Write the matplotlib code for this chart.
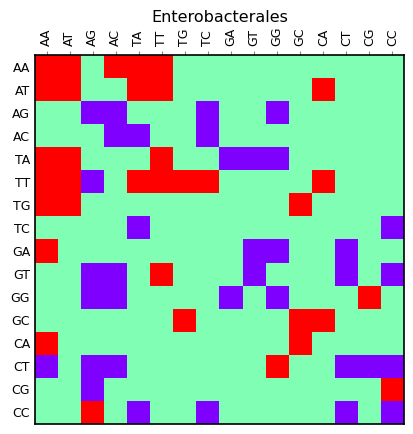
import numpy as np
import matplotlib
matplotlib.use("Agg")
import matplotlib.pyplot as plt

labels = ["AA", "AT", "AG", "AC", "TA", "TT", "TG", "TC",
          "GA", "GT", "GG", "GC", "CA", "CT", "CG", "CC"]

# 1 = red, 0 = green, -1 = purple
row_AA = [1, 1, 0, 1, 1, 1, 0, 0, 0, 0, 0, 0, 0, 0, 0, 0]
row_AT = [1, 1, 0, 0, 1, 1, 0, 0, 0, 0, 0, 0, 1, 0, 0, 0]
row_AG = [0, 0, -1, -1, 0, 0, 0, -1, 0, 0, -1, 0, 0, 0, 0, 0]
row_AC = [0, 0, 0, -1, -1, 0, 0, -1, 0, 0, 0, 0, 0, 0, 0, 0]
row_TA = [1, 1, 0, 0, 0, 1, 0, 0, -1, -1, -1, 0, 0, 0, 0, 0]
row_TT = [1, 1, -1, 0, 1, 1, 1, 1, 0, 0, 0, 0, 1, 0, 0, 0]
row_TG = [1, 1, 0, 0, 0, 0, 0, 0, 0, 0, 0, 1, 0, 0, 0, 0]
row_TC = [0, 0, 0, 0, -1, 0, 0, 0, 0, 0, 0, 0, 0, 0, 0, -1]
row_GA = [1, 0, 0, 0, 0, 0, 0, 0, 0, -1, -1, 0, 0, -1, 0, 0]
row_GT = [0, 0, -1, -1, 0, 1, 0, 0, 0, -1, 0, 0, 0, -1, 0, -1]
row_GG = [0, 0, -1, -1, 0, 0, 0, 0, -1, 0, -1, 0, 0, 0, 1, 0]
row_GC = [0, 0, 0, 0, 0, 0, 1, 0, 0, 0, 0, 1, 1, 0, 0, 0]
row_CA = [1, 0, 0, 0, 0, 0, 0, 0, 0, 0, 0, 1, 0, 0, 0, 0]
row_CT = [-1, 0, -1, -1, 0, 0, 0, 0, 0, 0, 1, 0, 0, -1, -1, -1]
row_CG = [0, 0, -1, 0, 0, 0, 0, 0, 0, 0, 0, 0, 0, 0, 0, 1]
row_CC = [0, 0, 1, 0, -1, 0, 0, -1, 0, 0, 0, 0, 0, -1, 0, -1]

matrix = np.array([row_AA, row_AT, row_AG, row_AC, row_TA, row_TT, row_TG, row_TC,
                   row_GA, row_GT, row_GG, row_GC, row_CA, row_CT, row_CG, row_CC])

fig = plt.figure(figsize=(4.13, 4.34), dpi=100)
ax = fig.add_axes([35 / 413, 10 / 434, 369 / 413, 369 / 434])
ax.imshow(matrix, cmap="rainbow", vmin=-1, vmax=1, interpolation="nearest", aspect="auto")
ax.set_xticks(range(len(labels)))
ax.set_yticks(range(len(labels)))
ax.set_xticklabels(labels, rotation=90, fontsize=9)
ax.set_yticklabels(labels, fontsize=9)
ax.xaxis.tick_top()
ax.tick_params(axis="both", length=3, color="#888888")
ax.tick_params(axis="y", length=0)
for s in ax.spines.values():
    s.set_linewidth(1.2)
fig.text(0.533, 1 - 17 / 434, "Enterobacterales", ha="center", va="center", fontsize=11.5)
fig.savefig("out.png", dpi=100)
